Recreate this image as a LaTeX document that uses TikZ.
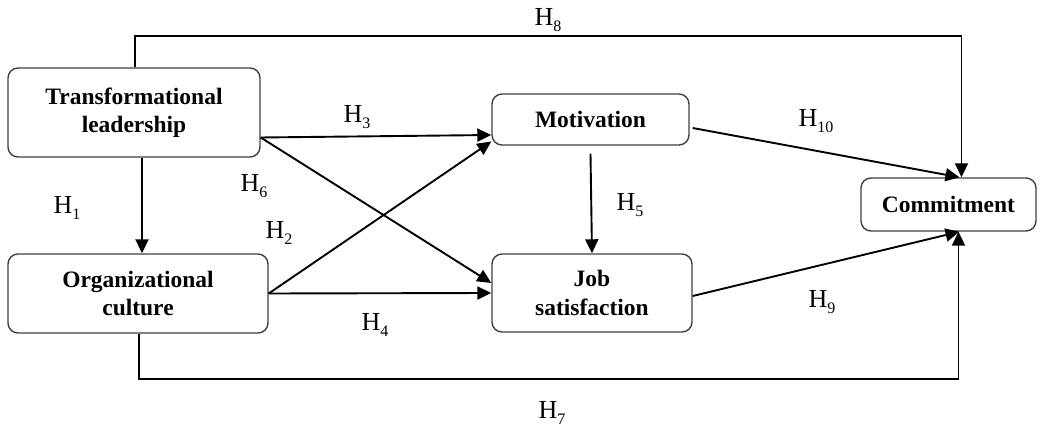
\documentclass[tikz,border=0pt]{standalone}
\usepackage{fontspec}
\setmainfont{Liberation Serif}
\usetikzlibrary{arrows.meta}
\newcommand{\hsub}[1]{H\raisebox{-0.2em}{\fontsize{16}{16}\selectfont #1}}
\begin{document}
\begin{tikzpicture}[x=1pt,y=-1pt,
  box/.style={draw=black!75, line width=1.4pt, rounded corners=10pt, align=center,
    font=\fontsize{23.5}{28.5}\selectfont\bfseries, inner sep=0pt},
  arr/.style={line width=1.9pt, -{Triangle[length=14pt,width=13pt]}},
  hlab/.style={font=\fontsize{26}{26}\selectfont, inner sep=0pt}]
\useasboundingbox (0,0) rectangle (1044,427);
\node[box, minimum width=252pt, minimum height=89pt] (tl) at (134,112.5) {Transformational\\leadership};
\node[box, minimum width=260pt, minimum height=79pt] (oc) at (138,293.5) {Organizational\\culture};
\node[box, minimum width=197pt, minimum height=51pt] (mot) at (590.5,119.5) {Motivation};
\node[box, minimum width=200pt, minimum height=78pt] (js) at (592,293) {Job\\satisfaction};
\node[box, minimum width=175pt, minimum height=53pt] (com) at (948.5,204.5) {Commitment};
% connectors
\draw[arr] ([xshift=1pt]tl.north) -- ++(0,-31) -| ([xshift=13pt]com.north);
\draw[arr] ([xshift=1pt]oc.south) -- ++(0,45) -| ([xshift=10pt]com.south);
\draw[arr] ([xshift=8pt]tl.south) -- ([xshift=4pt]oc.north);
\draw[arr] ([yshift=-25pt]tl.east) -- ([yshift=-15.5pt]mot.west);
\draw[arr] ([yshift=-25pt]tl.east) -- ([yshift=10pt]js.west);
\draw[arr] (oc.east) -- ([yshift=-22pt]mot.west);
\draw[arr] (oc.east) -- (js.west);
\draw[arr] ([yshift=-8pt]mot.south) -- (js.north);
\draw[arr] ([xshift=3pt,yshift=-8.5pt]mot.east) -- ([xshift=11pt]com.north);
\draw[arr] ([xshift=0pt,yshift=-3pt]js.east) -- ([xshift=11pt]com.south);
% labels
\node[hlab] (h8) at (548,20) {\hsub{8}};
\node[hlab] (h3) at (357,117) {\hsub{3}};
\node[hlab] (h10) at (816,121) {\hsub{10}};
\node[hlab] (h6) at (254,186) {\hsub{6}};
\node[hlab] (h1) at (67,208) {\hsub{1}};
\node[hlab] (h2) at (279,233) {\hsub{2}};
\node[hlab] (h5) at (630,205) {\hsub{5}};
\node[hlab] (h4) at (375,325) {\hsub{4}};
\node[hlab] (h9) at (822,302) {\hsub{9}};
\node[hlab] (h7) at (552,413) {\hsub{7}};
\end{tikzpicture}
\end{document}
